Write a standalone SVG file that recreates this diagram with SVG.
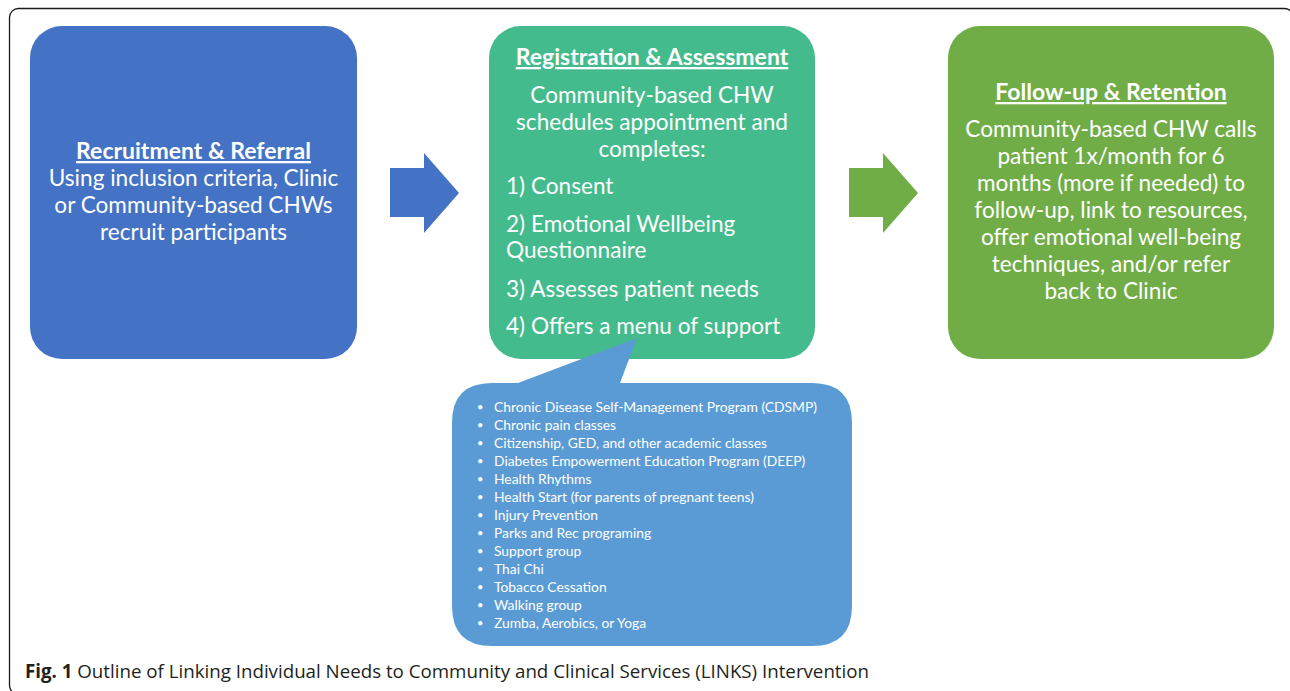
<svg xmlns="http://www.w3.org/2000/svg" width="1290" height="691" viewBox="0 0 1290 691">
  <style>
    .box-text { font-family: Lato, "Open Sans", sans-serif; font-size: 22.6px; fill: #ffffff; text-anchor: middle; }
    .box-title { font-weight: bold; text-decoration: underline; font-size: 23px; }
    .left { text-anchor: start; }
    .menu { font-family: Lato, "Open Sans", sans-serif; font-size: 13.85px; fill: #ffffff; }
    .bullet { font-size: 11px; }
    .caption { font-family: "Open Sans", "DejaVu Sans", sans-serif; font-size: 19px; fill: #231f20; }
  </style>

  <!-- outer frame -->
  <rect x="9.5" y="8.5" width="1284" height="686" rx="9" fill="none" stroke="#1a1a1a" stroke-width="1.3"/>

  <!-- flow arrows -->
  <g id="connectors">
    <polygon points="390,168 424,168 424,153 459,193 424,233 424,217 390,217" fill="#4472C4"/>
    <polygon points="849,168 883,168 883,153 918,193 883,233 883,217 849,217" fill="#70AD47"/>
  </g>

  <!-- step 1 -->
  <g id="recruitment">
    <rect x="30" y="26" width="327" height="333" rx="32" fill="#4472C4"/>
    <text class="box-text" x="193.5" y="159"><tspan class="box-title">Recruitment &amp; Referral</tspan></text>
    <text class="box-text" x="193.5" y="186">Using inclusion criteria, Clinic</text>
    <text class="box-text" x="193.5" y="213">or Community-based CHWs</text>
    <text class="box-text" x="193.5" y="240">recruit participants</text>
  </g>

  <!-- step 2 -->
  <g id="registration">
    <rect x="489" y="26" width="326" height="333" rx="32" fill="#44BB8C"/>
    <text class="box-text" x="652" y="65"><tspan class="box-title">Registration &amp; Assessment</tspan></text>
    <text class="box-text" x="652" y="103">Community-based CHW</text>
    <text class="box-text" x="652" y="130">schedules appointment and</text>
    <text class="box-text" x="652" y="157">completes:</text>
    <text class="box-text left" x="506" y="194">1) Consent</text>
    <text class="box-text left" x="506" y="232">2) Emotional Wellbeing</text>
    <text class="box-text left" x="506" y="258">Questionnaire</text>
    <text class="box-text left" x="506" y="297">3) Assesses patient needs</text>
    <text class="box-text left" x="506" y="334">4) Offers a menu of support</text>
  </g>

  <!-- step 3 -->
  <g id="followup">
    <rect x="948" y="26" width="326" height="333" rx="32" fill="#70AD47"/>
    <text class="box-text" x="1111" y="100"><tspan class="box-title">Follow-up &amp; Retention</tspan></text>
    <text class="box-text" x="1111" y="137">Community-based CHW calls</text>
    <text class="box-text" x="1111" y="164">patient 1x/month for 6</text>
    <text class="box-text" x="1111" y="191">months (more if needed) to</text>
    <text class="box-text" x="1111" y="218">follow-up, link to resources,</text>
    <text class="box-text" x="1111" y="245">offer emotional well-being</text>
    <text class="box-text" x="1111" y="272">techniques, and/or refer</text>
    <text class="box-text" x="1111" y="299">back to Clinic</text>
  </g>

  <!-- support menu callout -->
  <g id="support-menu">
    <path d="M 494,383 L 518,383 L 637,338 L 620,383 L 812,383 Q 852,383 852,423 L 852,606 Q 852,646 812,646 L 492,646 Q 452,646 452,606 L 452,423 Q 452,383 492,383 Z" fill="#5B9BD5"/>
    <g class="menu">
      <text class="bullet" x="477" y="411">•</text><text x="494" y="412">Chronic Disease Self-Management Program (CDSMP)</text>
      <text class="bullet" x="477" y="429">•</text><text x="494" y="430">Chronic pain classes</text>
      <text class="bullet" x="477" y="447">•</text><text x="494" y="448">Citizenship, GED, and other academic classes</text>
      <text class="bullet" x="477" y="465">•</text><text x="494" y="466">Diabetes Empowerment Education Program (DEEP)</text>
      <text class="bullet" x="477" y="483">•</text><text x="494" y="484">Health Rhythms</text>
      <text class="bullet" x="477" y="501">•</text><text x="494" y="502">Health Start (for parents of pregnant teens)</text>
      <text class="bullet" x="477" y="519">•</text><text x="494" y="520">Injury Prevention</text>
      <text class="bullet" x="477" y="537">•</text><text x="494" y="538">Parks and Rec programing</text>
      <text class="bullet" x="477" y="555">•</text><text x="494" y="556">Support group</text>
      <text class="bullet" x="477" y="573">•</text><text x="494" y="574">Thai Chi</text>
      <text class="bullet" x="477" y="591">•</text><text x="494" y="592">Tobacco Cessation</text>
      <text class="bullet" x="477" y="609">•</text><text x="494" y="610">Walking group</text>
      <text class="bullet" x="477" y="627">•</text><text x="494" y="628">Zumba, Aerobics, or Yoga</text>
    </g>
  </g>

  <!-- figure caption -->
  <text class="caption" x="25" y="678" textLength="844" lengthAdjust="spacingAndGlyphs"><tspan font-weight="bold">Fig. 1</tspan> Outline of Linking Individual Needs to Community and Clinical Services (LINKS) Intervention</text>
</svg>
